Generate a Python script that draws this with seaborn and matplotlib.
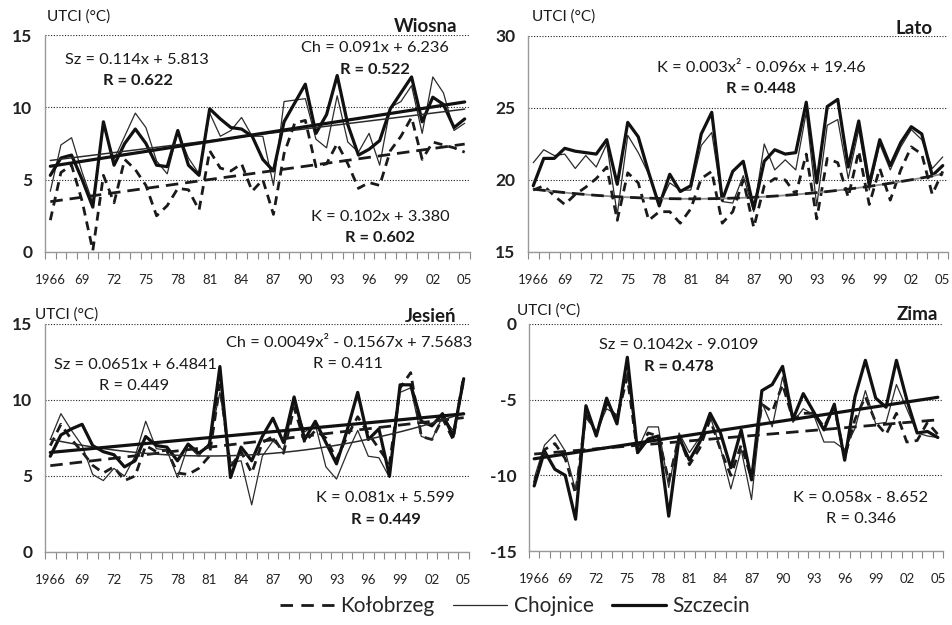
import numpy as np
import pandas as pd
import matplotlib
matplotlib.use("Agg")
import matplotlib.pyplot as plt
from matplotlib.lines import Line2D
import seaborn as sns

# ── Data ──────────────────────────────────────────────────────

years = list(range(1966, 2006))
year_labels = ["1966", "69", "72", "75", "78", "81", "84", "87",
               "90", "93", "96", "99", "02", "05"]
stations = ["Kołobrzeg", "Chojnice", "Szczecin"]

# Wiosna (spring)
spring_kol = [2.2, 5.5, 6.0, 3.5, 0.1, 5.3, 3.4, 6.4, 5.7, 4.6,
              2.5, 3.2, 4.4, 4.3, 2.9, 7.0, 5.8, 5.6, 6.1, 4.2,
              5.0, 2.6, 6.8, 8.9, 9.1, 5.9, 6.1, 7.5, 6.1, 4.4,
              4.8, 4.6, 7.0, 8.0, 9.3, 6.4, 7.6, 7.4, 7.2, 6.9]
spring_cho = [4.2, 7.4, 7.9, 5.5, 3.4, 8.8, 6.4, 8.0, 9.6, 8.6,
              6.3, 5.4, 8.3, 6.5, 5.4, 9.6, 8.0, 8.4, 9.3, 8.0,
              8.0, 4.6, 10.4, 10.5, 10.6, 7.8, 7.2, 10.8, 7.6, 6.9,
              8.2, 6.0, 10.0, 10.4, 11.5, 8.2, 12.1, 11.0, 8.4, 8.9]
spring_szc = [5.3, 6.5, 6.7, 5.0, 3.1, 9.0, 6.0, 7.5, 8.5, 7.5,
              6.0, 5.9, 8.4, 6.0, 5.3, 9.9, 9.2, 8.6, 8.5, 8.0,
              6.4, 5.6, 9.0, 10.3, 11.6, 8.2, 9.5, 12.2, 8.8, 6.7,
              7.1, 7.7, 9.9, 11.0, 12.1, 9.0, 10.7, 10.2, 8.6, 9.2]

# Lato (summer)
summer_kol = [19.3, 19.6, 18.9, 18.3, 19.0, 19.5, 20.1, 20.9, 17.2, 20.5,
              19.8, 17.2, 17.8, 17.8, 17.0, 18.0, 20.1, 20.6, 17.0, 17.8,
              20.0, 16.7, 19.6, 20.1, 20.0, 19.0, 21.8, 17.3, 21.5, 21.2,
              18.8, 22.0, 18.3, 20.8, 18.6, 20.7, 22.3, 21.8, 19.0, 20.6]
summer_cho = [21.2, 22.1, 21.7, 21.8, 20.8, 21.7, 20.9, 22.5, 17.6, 23.1,
              21.9, 20.4, 18.3, 19.8, 19.3, 19.3, 22.4, 23.3, 18.5, 18.4,
              20.3, 17.8, 22.5, 20.7, 21.4, 20.7, 24.7, 18.2, 23.8, 24.2,
              20.1, 23.5, 19.3, 22.5, 20.7, 22.3, 23.5, 22.8, 20.8, 21.6]
summer_szc = [19.6, 21.5, 21.5, 22.2, 22.0, 21.9, 21.8, 22.8, 19.7, 24.0,
              23.0, 20.5, 18.2, 20.4, 19.2, 19.6, 23.2, 24.7, 18.6, 20.6,
              21.3, 18.0, 21.3, 22.1, 21.8, 21.9, 25.4, 19.8, 25.1, 25.6,
              20.9, 24.1, 19.7, 22.8, 21.0, 22.6, 23.7, 23.2, 20.3, 21.0]

# Jesień (autumn)
autumn_kol = [7.0, 8.4, 7.4, 6.6, 5.7, 5.2, 5.6, 4.7, 5.0, 7.0,
              6.6, 6.7, 5.2, 5.1, 5.5, 6.3, 11.0, 5.6, 6.6, 5.2,
              7.2, 7.6, 6.5, 9.5, 7.2, 8.0, 7.5, 6.1, 7.6, 8.9,
              7.8, 6.8, 5.8, 10.8, 11.8, 7.6, 7.4, 8.8, 7.4, 11.6]
autumn_cho = [7.4, 9.1, 8.0, 7.0, 5.1, 4.7, 5.5, 5.0, 6.3, 8.6,
              6.8, 6.7, 4.9, 7.0, 6.3, 7.2, 10.5, 5.9, 6.0, 3.1,
              6.3, 7.3, 6.7, 9.8, 7.9, 8.4, 5.6, 4.8, 6.5, 8.0,
              6.3, 6.2, 4.9, 10.5, 10.8, 7.6, 7.4, 8.9, 8.0, 11.0]
autumn_szc = [6.3, 7.7, 8.1, 8.4, 7.0, 6.6, 6.4, 5.6, 6.0, 7.6,
              7.0, 6.9, 6.0, 7.1, 6.5, 7.0, 12.2, 4.9, 6.9, 6.0,
              7.6, 8.8, 7.2, 10.2, 7.4, 8.6, 7.2, 5.8, 8.0, 10.5,
              7.4, 8.1, 5.0, 11.0, 11.0, 8.6, 8.3, 9.1, 7.6, 11.4]

# Zima (winter)
winter_kol = [-10.5, -8.3, -7.9, -8.9, -11.2, -6.0, -7.2, -5.3, -6.2, -3.5,
              -8.6, -7.2, -7.4, -10.4, -7.4, -9.3, -8.2, -6.3, -8.3, -10.0,
              -8.0, -10.2, -5.3, -5.8, -4.0, -6.3, -5.9, -5.9, -6.8, -5.5,
              -8.8, -6.3, -4.8, -6.5, -7.3, -5.9, -7.8, -7.7, -6.5, -7.3]
winter_cho = [-10.2, -8.0, -7.3, -8.4, -11.0, -6.2, -7.1, -5.6, -6.0, -3.2,
              -8.3, -6.8, -6.8, -10.8, -7.2, -8.5, -7.5, -6.1, -8.2, -10.9,
              -8.3, -11.6, -5.2, -6.8, -3.5, -6.5, -5.6, -6.0, -7.8, -7.8,
              -8.3, -6.9, -4.4, -6.6, -6.5, -4.0, -5.6, -7.2, -7.4, -7.5]
winter_szc = [-10.7, -8.4, -9.6, -10.0, -12.9, -5.4, -7.4, -4.9, -6.6, -2.2,
              -8.5, -7.6, -7.4, -12.7, -7.5, -9.0, -7.8, -5.9, -7.2, -9.5,
              -7.0, -10.3, -4.4, -4.0, -2.8, -6.3, -4.6, -5.8, -7.0, -5.3,
              -9.0, -4.8, -2.4, -4.9, -5.5, -2.4, -5.0, -7.2, -7.1, -7.5]

# trend coefficients as printed on the chart (x = 1..40)
spring_trends = {"Kołobrzeg": [0.102, 3.380], "Chojnice": [0.091, 6.236],
                 "Szczecin": [0.114, 5.813]}
summer_trends = {"Kołobrzeg": [0.003, -0.096, 19.46]}
autumn_trends = {"Kołobrzeg": [0.081, 5.599],
                 "Chojnice": [0.0049, -0.1567, 7.5683],
                 "Szczecin": [0.0651, 6.4841]}
winter_trends = {"Kołobrzeg": [0.058, -8.652], "Szczecin": [0.1042, -9.0109]}

# ── Style ─────────────────────────────────────────────────────

sns.set_theme(style="white")
plt.rcParams["font.family"] = ["Lato", "DejaVu Sans"]

STYLE = {
    "Kołobrzeg": dict(color="#1a1a1a", lw=2.0, dashes=(3.2, 2.2)),
    "Chojnice":  dict(color="#2b2b2b", lw=0.9, dashes=None),
    "Szczecin":  dict(color="#111111", lw=2.3, dashes=None),
}

W, H = 953, 625


def px(x, y):
    return x / W, 1 - y / H


def draw_panel(ax, kol, cho, szc, trends, yticks, trend_gray=False):
    df = pd.DataFrame({"idx": np.arange(len(years)),
                       "Kołobrzeg": kol, "Chojnice": cho, "Szczecin": szc})
    long = df.melt("idx", var_name="station", value_name="utci")
    for st in stations:
        sub = long[long["station"] == st]
        s = STYLE[st]
        sns.lineplot(data=sub, x="idx", y="utci", ax=ax, color=s["color"],
                     lw=s["lw"], legend=False)
        if s["dashes"]:
            ax.lines[-1].set_dashes(s["dashes"])

    xs = np.arange(len(years))
    for st, coef in trends.items():
        yv = np.polyval(coef, xs + 1)
        s = STYLE[st]
        if trend_gray:
            sns.lineplot(x=xs, y=yv, ax=ax, color="#8a8a8a", lw=1.3)
        sns.lineplot(x=xs, y=yv, ax=ax, color=s["color"],
                     lw=max(s["lw"], 1.0) if st != "Chojnice" else 1.1)
        if s["dashes"]:
            ax.lines[-1].set_dashes((4.5, 2.5))

    ax.set_xlim(-0.5, len(years) - 0.5)
    ax.set_ylim(yticks[0], yticks[-1])
    ax.set_yticks(yticks)
    ax.set_yticklabels([str(t) for t in yticks], fontsize=12.5, fontweight="bold",
                       color="#222222")
    ax.set_xticks(np.arange(0, len(years), 3))
    ax.set_xticklabels(year_labels, fontsize=9.5, color="#222222")
    ax.set_xticks(np.arange(-0.5, len(years)), minor=True)
    ax.tick_params(axis="x", which="major", length=0, pad=16)
    ax.tick_params(axis="x", which="minor", length=5, width=0.8,
                   color="#888888", direction="out", bottom=True)
    ax.tick_params(axis="y", length=0, pad=9)
    ax.set_xlabel(""); ax.set_ylabel("")
    ax.yaxis.grid(True, linestyle=(0, (1, 1.5)), color="#222222", lw=0.8)
    ax.xaxis.grid(False)
    for side in ("top", "right"):
        ax.spines[side].set_visible(False)
    for side in ("left", "bottom"):
        ax.spines[side].set_color("#999999")
        ax.spines[side].set_linewidth(1.0)
    ax.set_facecolor("white")


fig = plt.figure(figsize=(W / 100, H / 100), dpi=100)

ax1 = fig.add_axes([45 / W, 1 - 252 / H, 425 / W, 217 / H])
ax2 = fig.add_axes([528 / W, 1 - 252 / H, 420 / W, 216 / H])
ax3 = fig.add_axes([45 / W, 1 - 552 / H, 424 / W, 228 / H])
ax4 = fig.add_axes([529 / W, 1 - 551 / H, 414 / W, 227 / H])

draw_panel(ax1, spring_kol, spring_cho, spring_szc, spring_trends, [0, 5, 10, 15])
draw_panel(ax2, summer_kol, summer_cho, summer_szc, summer_trends, [15, 20, 25, 30],
           trend_gray=True)
draw_panel(ax3, autumn_kol, autumn_cho, autumn_szc, autumn_trends, [0, 5, 10, 15])
draw_panel(ax4, winter_kol, winter_cho, winter_szc, winter_trends, [-15, -10, -5, 0])

# ── Texts ─────────────────────────────────────────────────────

FS = 11.8


def label(x, y, s, bold=False, size=FS, ha="center"):
    fig.text(*px(x, y), s, ha=ha, va="center", fontsize=size,
             fontweight="bold" if bold else "normal", color="#1a1a1a")


for x, y in [(47, 17), (532, 17), (35, 315), (517, 311)]:
    label(x, y, "UTCI (°C)", size=11, ha="left")

label(457, 26, "Wiosna", bold=True, size=13.5, ha="right")
label(933, 29, "Lato", bold=True, size=13.5, ha="right")
label(456, 316, "Jesień", bold=True, size=13.5, ha="right")
label(938, 314, "Zima", bold=True, size=13.5, ha="right")

label(137, 60, "Sz = 0.114x + 5.813")
label(138, 81, "R = 0.622", bold=True)
label(375, 48, "Ch = 0.091x + 6.236")
label(375, 70, "R = 0.522", bold=True)
label(380, 217, "K = 0.102x + 3.380")
label(380, 238, "R = 0.602", bold=True)

label(761, 68, "K = 0.003x² - 0.096x + 19.46")
label(761, 89, "R = 0.448", bold=True)

label(135, 365, "Sz = 0.0651x + 6.4841")
label(134, 386, "R = 0.449")
label(349, 343, "Ch = 0.0049x² - 0.1567x + 7.5683")
label(348, 364, "R = 0.411")
label(385, 498, "K = 0.081x + 5.599")
label(386, 520, "R = 0.449", bold=True)

label(679, 345, "Sz = 0.1042x - 9.0109")
label(679, 367, "R = 0.478", bold=True)
label(861, 498, "K = 0.058x - 8.652")
label(861, 519, "R = 0.346")

# ── Legend ────────────────────────────────────────────────────

handles = []
for st in stations:
    s = STYLE[st]
    h = Line2D([0], [0], color=s["color"], lw=s["lw"])
    if s["dashes"]:
        h.set_dashes((4.5, 3))
    handles.append(h)
fig.legend(handles, stations, loc="center", bbox_to_anchor=(*px(515, 606),),
           ncol=3, frameon=False, fontsize=15, handlelength=2.6,
           handletextpad=0.3, columnspacing=0.9)

fig.savefig("out.png", dpi=100, facecolor="white")
